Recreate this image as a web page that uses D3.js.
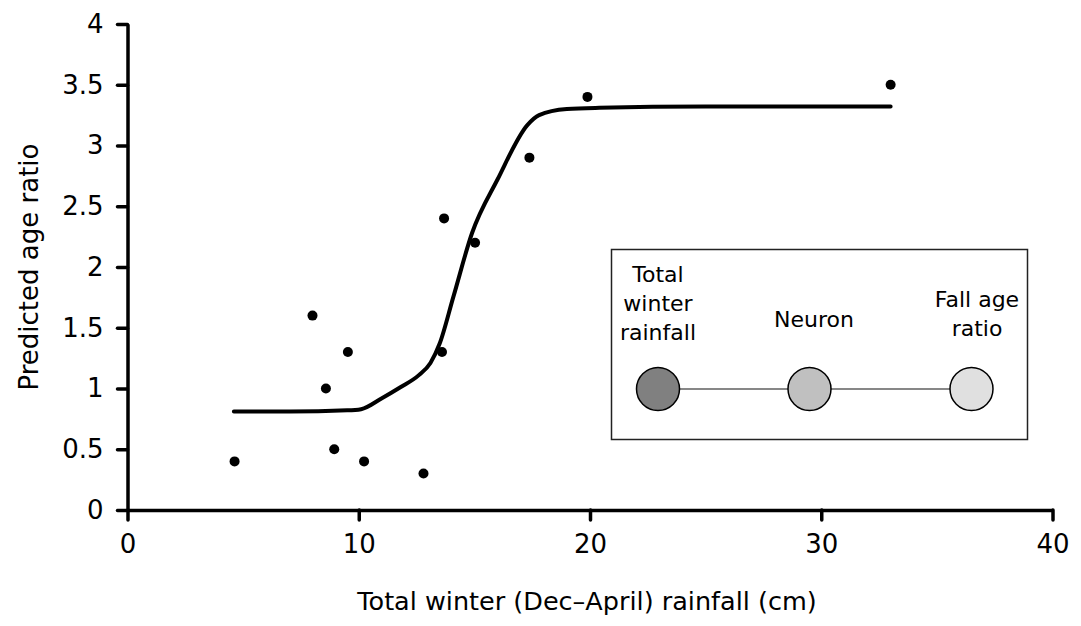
<!DOCTYPE html>
<html>
<head>
<meta charset="utf-8">
<script src="https://cdn.jsdelivr.net/npm/d3@7"></script>
<style>
  body { margin: 0; background: #fff; }
  .tick text { font-family: "DejaVu Sans", sans-serif; font-size: 26px; fill: #000; }
</style>
</head>
<body>
<div id="chart"></div>
<script>
// observed points (rainfall cm, fall age ratio)
var rainfall = [4.63, 8.0, 8.58, 8.94, 9.53, 10.23, 12.8, 13.6, 13.69, 15.03, 17.38, 19.89, 33.0];
var ageRatio = [0.4, 1.6, 1.0, 0.5, 1.3, 0.4, 0.3, 1.3, 2.4, 2.2, 2.9, 3.4, 3.5];

// network prediction curve
var curveX = [4.6, 7, 9.5, 10.1, 11, 11.8, 12.6, 13.1, 13.5, 14.1, 14.9, 16.0, 17.3, 17.8, 19.0, 20.4, 25, 33];
var curveY = [0.81, 0.81, 0.82, 0.83, 0.92, 1.01, 1.11, 1.21, 1.37, 1.76, 2.28, 2.72, 3.17, 3.25, 3.30, 3.31, 3.32, 3.32];

var xTicks = [0, 10, 20, 30, 40];
var yTicks = [0, 0.5, 1, 1.5, 2, 2.5, 3, 3.5, 4];

var nodeNames = [["Total", "winter", "rainfall"], ["Neuron"], ["Fall age", "ratio"]];
var nodeFills = ["#808080", "#c0c0c0", "#e0e0e0"];

var width = 1081;
var height = 626;

var svg = d3.select('#chart')
  .append('svg')
  .attr('width', width)
  .attr('height', height);

var xScale = d3.scaleLinear().domain([0, 40]).range([127.5, 1052.5]);
var yScale = d3.scaleLinear().domain([0, 4]).range([510, 24]);

var xAxis = d3.axisBottom(xScale).tickValues(xTicks).tickSize(10).tickPadding(15).tickSizeOuter(0);
var yAxis = d3.axisLeft(yScale).tickValues(yTicks).tickSize(10).tickPadding(14).tickSizeOuter(0)
  .tickFormat(function(d){ return String(d); });

var gx = svg.append('g')
  .attr('transform', 'translate(0,' + yScale(0) + ')')
  .call(xAxis);
var gy = svg.append('g')
  .attr('transform', 'translate(' + xScale(0) + ',0)')
  .call(yAxis);

[gx, gy].forEach(function(g){
  g.select('.domain').attr('stroke', '#000').attr('stroke-width', 3.5);
  g.selectAll('.tick line').attr('stroke', '#000').attr('stroke-width', 3.5).attr('stroke-linecap', 'round');
});

// curve
var line = d3.line()
  .x(function(d){ return xScale(d[0]); })
  .y(function(d){ return yScale(d[1]); })
  .curve(d3.curveMonotoneX);

svg.append('path')
  .datum(d3.zip(curveX, curveY))
  .attr('d', line)
  .attr('fill', 'none')
  .attr('stroke', '#000')
  .attr('stroke-width', 4)
  .attr('stroke-linecap', 'round');

// points
svg.append('g')
  .selectAll('circle')
  .data(d3.zip(rainfall, ageRatio))
  .enter()
  .append('circle')
  .attr('cx', function(d){ return xScale(d[0]); })
  .attr('cy', function(d){ return yScale(d[1]); })
  .attr('r', 5)
  .attr('fill', '#000');

// axis titles
svg.append('text')
  .text('Total winter (Dec\u2013April) rainfall (cm)')
  .attr('x', 587)
  .attr('y', 610)
  .attr('text-anchor', 'middle')
  .style('font-family', '"DejaVu Sans", sans-serif')
  .style('font-size', '25.5px');

svg.append('text')
  .text('Predicted age ratio')
  .attr('text-anchor', 'middle')
  .attr('transform', 'translate(38,267)rotate(-90)')
  .style('font-family', '"DejaVu Sans", sans-serif')
  .style('font-size', '26px');

// network diagram box
var box = svg.append('g');
box.append('rect')
  .attr('x', 611.5)
  .attr('y', 249.5)
  .attr('width', 416)
  .attr('height', 190)
  .attr('fill', '#fff')
  .attr('stroke', '#222')
  .attr('stroke-width', 1.5);

var nodeX = [658, 809.5, 971.5];
var nodeY = 389;
var nodeR = 21.5;

box.append('line')
  .attr('x1', nodeX[0]).attr('x2', nodeX[2])
  .attr('y1', nodeY).attr('y2', nodeY)
  .attr('stroke', '#111')
  .attr('stroke-width', 1.2);

box.selectAll('circle')
  .data(nodeFills)
  .enter()
  .append('circle')
  .attr('cx', function(d, i){ return nodeX[i]; })
  .attr('cy', nodeY)
  .attr('r', nodeR)
  .attr('fill', function(d){ return d; })
  .attr('stroke', '#000')
  .attr('stroke-width', 1.5);

var labelX = [658, 814, 977];
var labelTop = [282, 327, 307];
box.selectAll('text.node')
  .data(nodeNames)
  .enter()
  .append('text')
  .attr('class', 'node')
  .attr('text-anchor', 'middle')
  .style('font-family', '"DejaVu Sans", Verdana, sans-serif')
  .style('font-size', '22px')
  .each(function(d, i){
    var t = d3.select(this);
    d.forEach(function(s, j){
      t.append('tspan')
        .attr('x', labelX[i])
        .attr('y', labelTop[i] + j * 29)
        .text(s);
    });
  });
</script>
</body>
</html>
